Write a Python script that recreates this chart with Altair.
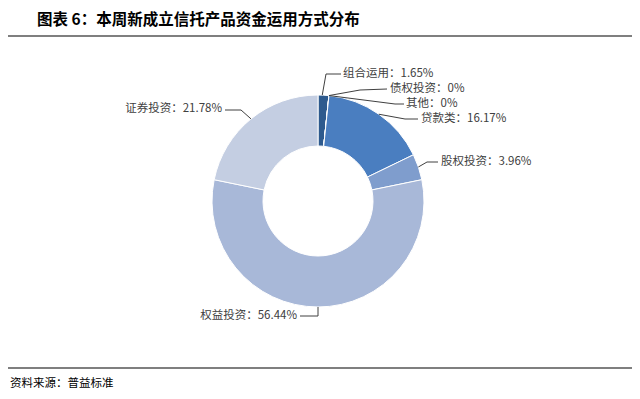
import math
import altair as alt
import pandas as pd

# ---- data ----
categories = ["组合运用", "债权投资", "其他", "贷款类", "股权投资", "权益投资", "证券投资"]
values = [1.65, 0, 0, 16.17, 3.96, 56.44, 21.78]
colors = ["#2D5A8E", "#2D5A8E", "#2D5A8E", "#4A7EC0", "#7F9DCD", "#A8B8D8", "#C4CEE2"]
title_text = "图表 6：本周新成立信托产品资金运用方式分布"
source_text = "资料来源：普益标准"

# ---- layout (page pixels) ----
M = 8
W, H = 624, 383
CX, CY = 318, 201
R_OUT, R_IN = 106, 55
FONT = "Noto Sans CJK SC"

# label layout: elbow point, end point, text x, text y, side
label_layout = {
    "组合运用": ((326, 74), (341, 74), 343, 74, "left"),
    "债权投资": ((360, 90), (387, 89), 390, 89, "left"),
    "其他": ((395, 104), (404, 104), 406, 104, "left"),
    "贷款类": ((405, 119), (418, 119), 421, 119, "left"),
    "股权投资": ((427, 162), (438, 162), 441, 162, "left"),
    "权益投资": ((318, 316), (300, 316), 297, 316, "right"),
    "证券投资": ((241, 110), (225, 110), 222, 109, "right"),
}

total = sum(values)
df = pd.DataFrame({"cat": categories, "value": values, "idx": list(range(len(categories)))})

line_rows, text_rows = [], []
cum = 0.0
for c, v in zip(categories, values):
    start = cum
    cum += v
    mid = start if v == 0 else (start + cum) / 2
    ang = mid / total * 2 * math.pi
    ax = CX + R_OUT * math.sin(ang)
    ay = CY - R_OUT * math.cos(ang)
    if c == "组合运用":
        ax = CX + R_OUT * math.sin(start / total * 2 * math.pi + 0.04)
    elbow, end, tx, ty, side = label_layout[c]
    for k, (px, py) in enumerate([(ax, ay), elbow, end]):
        line_rows.append({"cat": c, "k": k, "x": px - M, "y": py - M})
    lab = f"{c}：{v:g}%"
    text_rows.append({"t": lab, "x": tx - M, "y": ty - M, "side": side})

lines_df = pd.DataFrame(line_rows)
text_df = pd.DataFrame(text_rows)

xs = alt.Scale(domain=[0, W], nice=False, zero=False)
ys = alt.Scale(domain=[0, H], nice=False, zero=False, reverse=True)

arc = alt.Chart(df).mark_arc(
    outerRadius=R_OUT, innerRadius=R_IN, stroke="white", strokeWidth=1
).encode(
    theta=alt.Theta("value:Q", stack=True),
    order=alt.Order("idx:Q"),
    color=alt.Color("cat:N", scale=alt.Scale(domain=categories, range=colors), legend=None),
    x=alt.value(CX - M),
    y=alt.value(CY - M),
)

leaders = alt.Chart(lines_df).mark_line(color="#404040", strokeWidth=1).encode(
    x=alt.X("x:Q", scale=xs, axis=None),
    y=alt.Y("y:Q", scale=ys, axis=None),
    detail="cat:N",
    order="k:Q",
)

txt_left = alt.Chart(text_df[text_df.side == "left"]).mark_text(
    align="left", baseline="middle", font=FONT, fontSize=11.5, color="#404040"
).encode(x=alt.X("x:Q", scale=xs, axis=None), y=alt.Y("y:Q", scale=ys, axis=None), text="t:N")

txt_right = alt.Chart(text_df[text_df.side == "right"]).mark_text(
    align="right", baseline="middle", font=FONT, fontSize=11.5, color="#404040"
).encode(x=alt.X("x:Q", scale=xs, axis=None), y=alt.Y("y:Q", scale=ys, axis=None), text="t:N")

title = alt.Chart(pd.DataFrame({"t": [title_text]})).mark_text(
    align="left", baseline="middle", font=FONT, fontSize=15.5, fontWeight="bold", color="#000000"
).encode(x=alt.value(37 - M), y=alt.value(20 - M), text="t:N")

source = alt.Chart(pd.DataFrame({"t": [source_text]})).mark_text(
    align="left", baseline="middle", font=FONT, fontSize=11.5, color="#000000"
).encode(x=alt.value(10 - M), y=alt.value(384 - M), text="t:N")

rule_df = pd.DataFrame({"y": [36, 368]})
rules = alt.Chart(rule_df).mark_rule(color="#555555", strokeWidth=1.5).encode(
    x=alt.value(3 - M), x2=alt.value(636 - M),
    y=alt.Y("y:Q", scale=alt.Scale(domain=[M, H + M], nice=False, zero=False, reverse=True), axis=None),
)

chart = alt.layer(arc, leaders, txt_left, txt_right, title, source, rules).resolve_scale(
    y="independent"
).properties(
    width=W, height=H, autosize="none", padding=0, background="white"
).configure_view(stroke=None)

chart.save("out.html", embed_options={"renderer": "svg", "actions": False})
